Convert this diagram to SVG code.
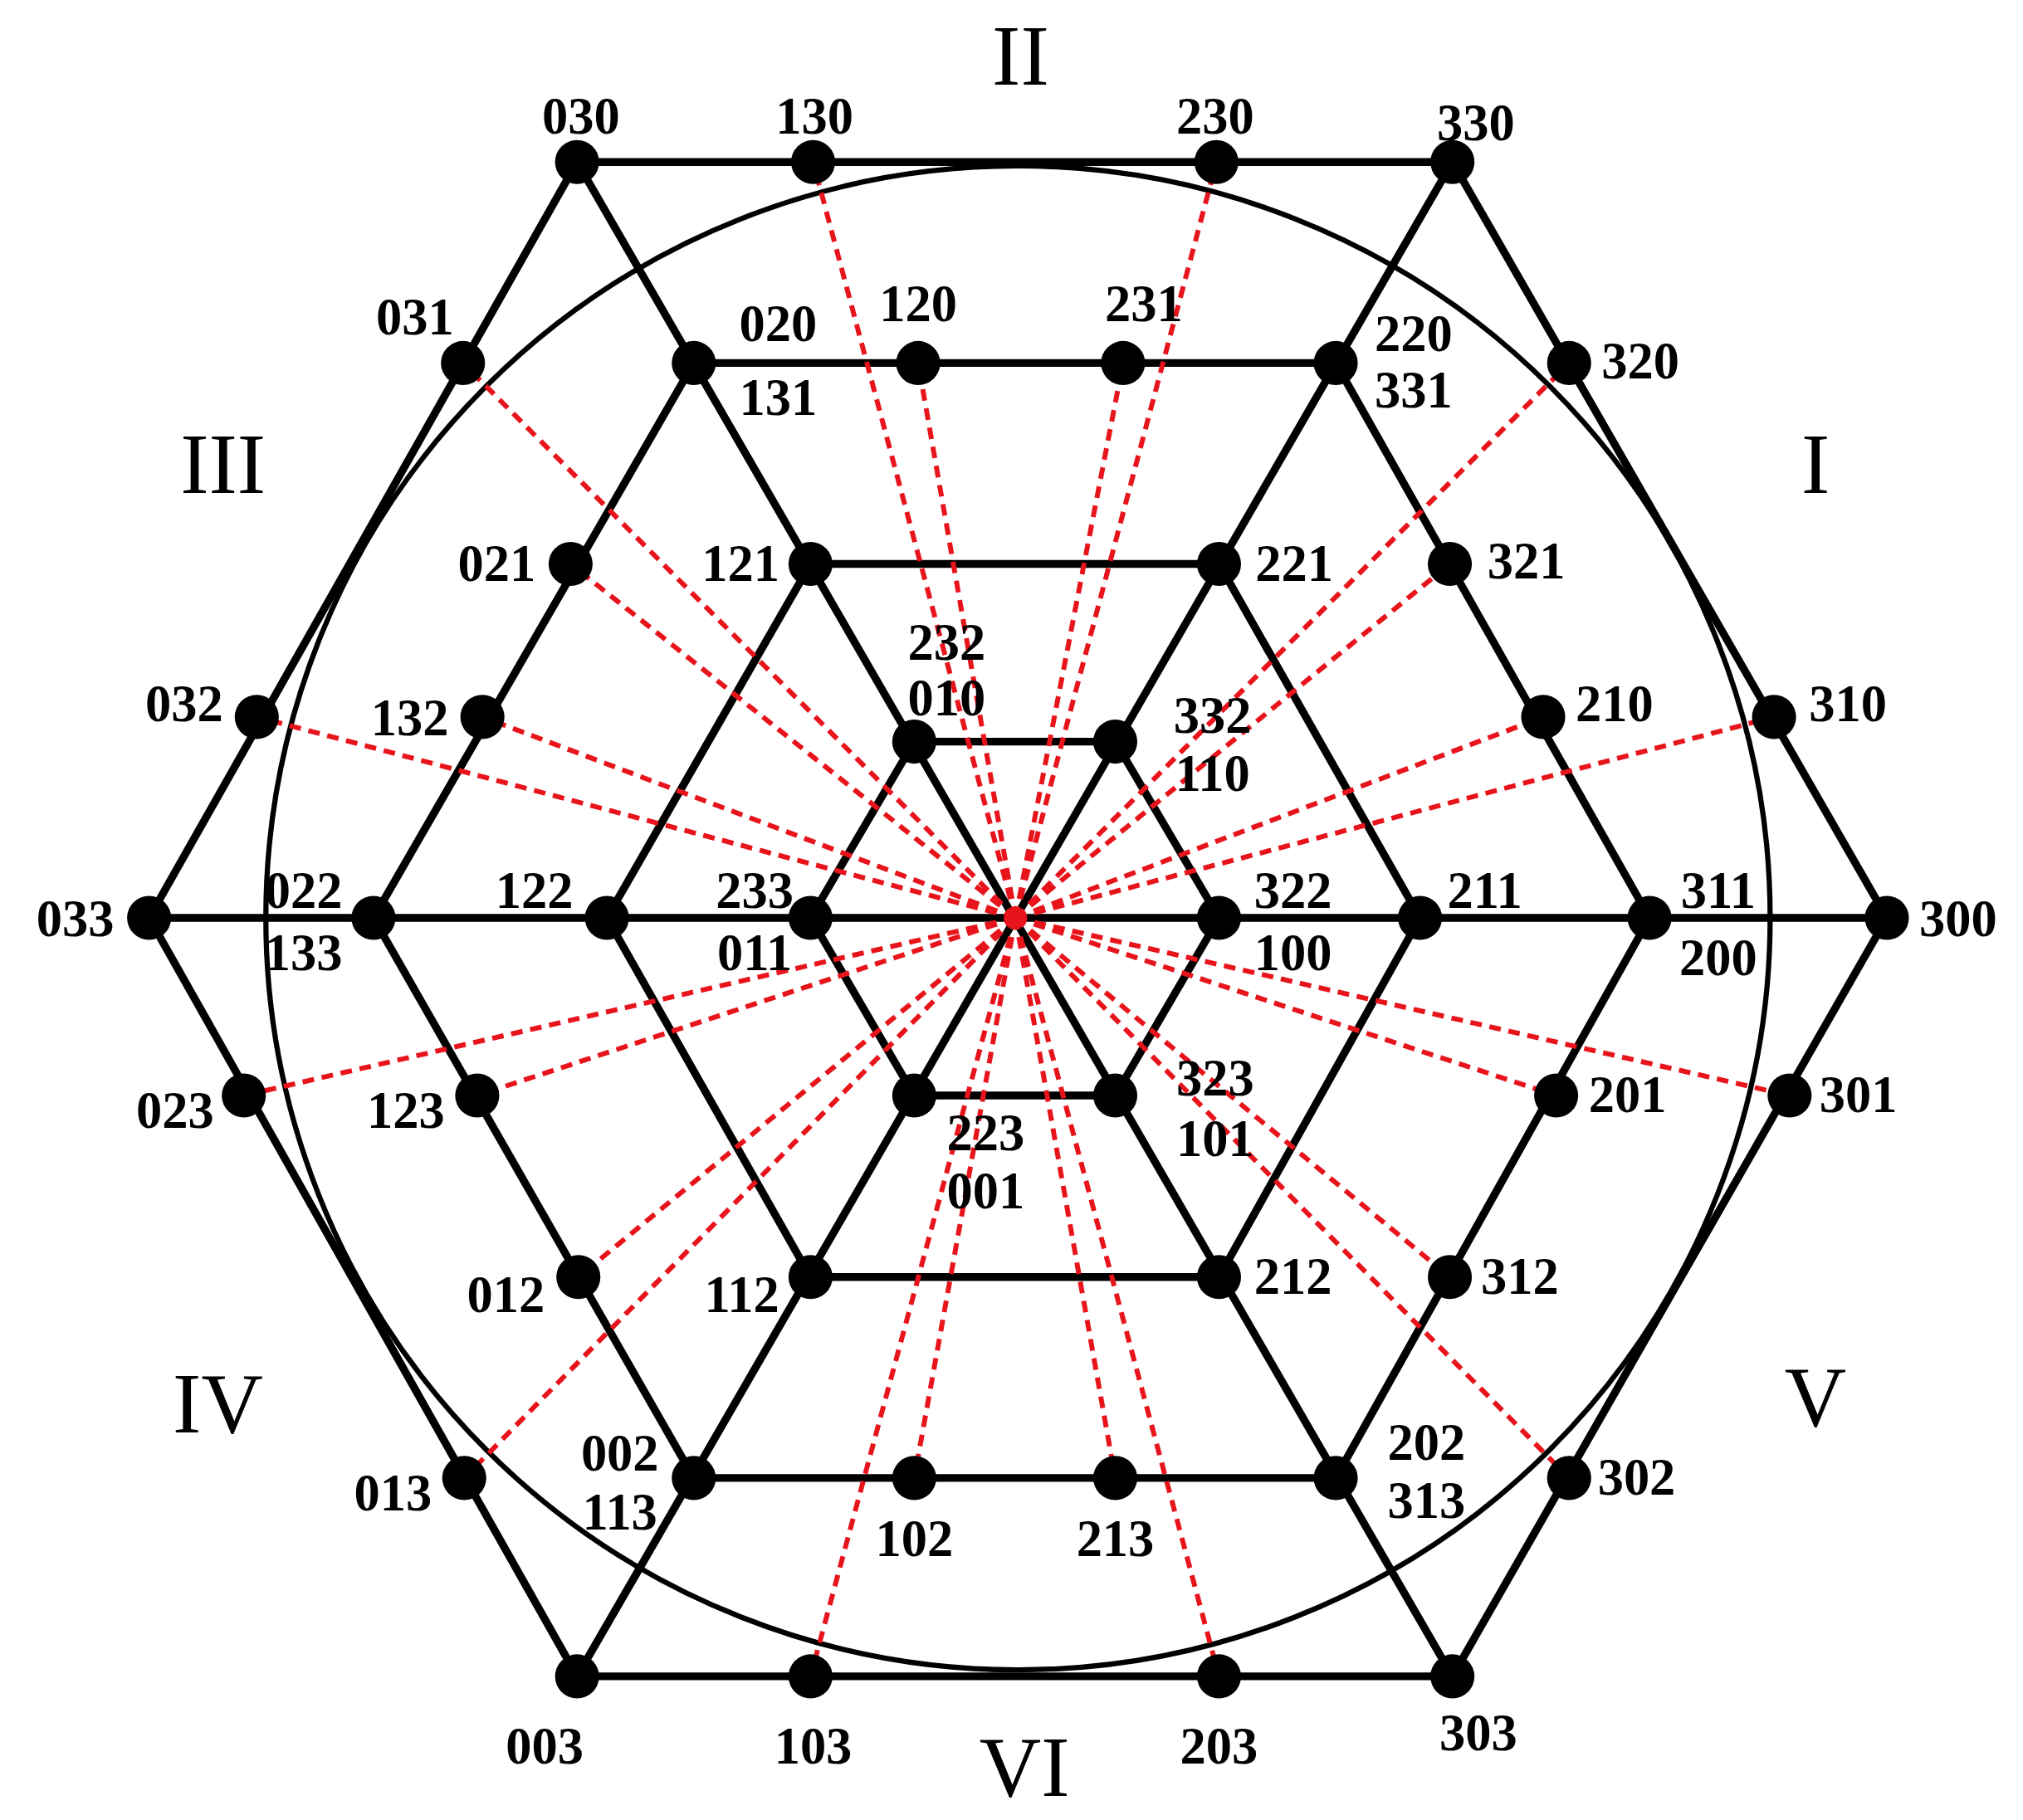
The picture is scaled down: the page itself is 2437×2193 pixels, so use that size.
<svg xmlns="http://www.w3.org/2000/svg" width="2437" height="2193" viewBox="0 0 2437 2193">
<style>
.e{stroke:#000;stroke-width:6;fill:none;stroke-linecap:round}
.r{stroke:#e8141c;stroke-width:3.8;stroke-dasharray:9,6;fill:none}
.n{fill:#000}
text{font-family:"Liberation Serif",serif;font-weight:bold;font-size:40px;text-anchor:middle;fill:#000}
.rn{font-weight:normal;font-size:66px}
</style>
<rect width="2437" height="2193" fill="#fff"/>
<g transform="scale(1.5622)">
<g id="connectors">
<circle cx="785" cy="708" r="580" stroke="#000" stroke-width="4" fill="none"/>
<path class="e" d="M445,125H1120L1455,708L1120,1293H445L115,708Z"/>
<path class="e" d="M535,280H1030L1272,708L1030,1140H535L288,708Z"/>
<path class="e" d="M705,572H860L940,708L860,845H705L625,708Z"/>
<path class="e" d="M625,435H940L1095,708L940,985H625L468,708Z"/>
<path class="e" d="M115,708H1455M445,125L1120,1293M1120,125L445,1293"/>
<g class="r">
<path d="M783,708L627,125M783,708L938,125M783,708L708,280M783,708L866,280M783,708L357,280M783,708L440,435M783,708L198,553M783,708L372,553M783,708L1210,280M783,708L1118,435M783,708L1190,553M783,708L1368,553"/>
<path d="M783,708L188,845M783,708L368,845M783,708L446,985M783,708L358,1140M783,708L1200,845M783,708L1380,845M783,708L1118,985M783,708L1210,1140M783,708L705,1140M783,708L860,1140M783,708L625,1293M783,708L940,1293"/>
</g>
</g>
<g id="nodes" class="n">
<g id="n030"><circle cx="445" cy="125" r="17"/></g>
<g id="n130"><circle cx="627" cy="125" r="17"/></g>
<g id="n230"><circle cx="938" cy="125" r="17"/></g>
<g id="n330"><circle cx="1120" cy="125" r="17"/></g>
<g id="n031"><circle cx="357" cy="280" r="17"/></g>
<g id="n020"><circle cx="535" cy="280" r="17"/></g>
<g id="n120"><circle cx="708" cy="280" r="17"/></g>
<g id="n231"><circle cx="866" cy="280" r="17"/></g>
<g id="n220"><circle cx="1030" cy="280" r="17"/></g>
<g id="n320"><circle cx="1210" cy="280" r="17"/></g>
<g id="n021"><circle cx="440" cy="435" r="17"/></g>
<g id="n121"><circle cx="625" cy="435" r="17"/></g>
<g id="n221"><circle cx="940" cy="435" r="17"/></g>
<g id="n321"><circle cx="1118" cy="435" r="17"/></g>
<g id="n032"><circle cx="198" cy="553" r="17"/></g>
<g id="n132"><circle cx="372" cy="553" r="17"/></g>
<g id="n010"><circle cx="705" cy="572" r="17"/></g>
<g id="n110"><circle cx="860" cy="572" r="17"/></g>
<g id="n210"><circle cx="1190" cy="553" r="17"/></g>
<g id="n310"><circle cx="1368" cy="553" r="17"/></g>
<g id="n033"><circle cx="115" cy="708" r="17"/></g>
<g id="n022"><circle cx="288" cy="708" r="17"/></g>
<g id="n122"><circle cx="468" cy="708" r="17"/></g>
<g id="n011"><circle cx="625" cy="708" r="17"/></g>
<g id="n100"><circle cx="940" cy="708" r="17"/></g>
<g id="n211"><circle cx="1095" cy="708" r="17"/></g>
<g id="n311"><circle cx="1272" cy="708" r="17"/></g>
<g id="n300"><circle cx="1455" cy="708" r="17"/></g>
<g id="n023"><circle cx="188" cy="845" r="17"/></g>
<g id="n123"><circle cx="368" cy="845" r="17"/></g>
<g id="n001"><circle cx="705" cy="845" r="17"/></g>
<g id="n101"><circle cx="860" cy="845" r="17"/></g>
<g id="n201"><circle cx="1200" cy="845" r="17"/></g>
<g id="n301"><circle cx="1380" cy="845" r="17"/></g>
<g id="n012"><circle cx="446" cy="985" r="17"/></g>
<g id="n112"><circle cx="625" cy="985" r="17"/></g>
<g id="n212"><circle cx="940" cy="985" r="17"/></g>
<g id="n312"><circle cx="1118" cy="985" r="17"/></g>
<g id="n013"><circle cx="358" cy="1140" r="17"/></g>
<g id="n002"><circle cx="535" cy="1140" r="17"/></g>
<g id="n102"><circle cx="705" cy="1140" r="17"/></g>
<g id="n213"><circle cx="860" cy="1140" r="17"/></g>
<g id="n202"><circle cx="1030" cy="1140" r="17"/></g>
<g id="n302"><circle cx="1210" cy="1140" r="17"/></g>
<g id="n003"><circle cx="445" cy="1293" r="17"/></g>
<g id="n103"><circle cx="625" cy="1293" r="17"/></g>
<g id="n203"><circle cx="940" cy="1293" r="17"/></g>
<g id="n303"><circle cx="1120" cy="1293" r="17"/></g>
</g>
<g id="labels">
<text x="448" y="103">030</text><text x="628" y="103">130</text><text x="937" y="103">230</text><text x="1138" y="108">330</text>
<text class="rn" x="787" y="65">II</text><text class="rn" x="172" y="380">III</text><text class="rn" x="1400" y="380">I</text>
<text class="rn" x="168" y="1105">IV</text><text class="rn" x="1400" y="1100">V</text><text class="rn" x="790" y="1385">VI</text>
<text x="320" y="258">031</text><text x="600" y="263">020</text><text x="600" y="320">131</text><text x="708" y="248">120</text><text x="882" y="248">231</text>
<text x="1090" y="271">220</text><text x="1090" y="314">331</text><text x="1265" y="292">320</text>
<text x="383" y="448">021</text><text x="571" y="448">121</text><text x="998" y="448">221</text><text x="1177" y="446">321</text>
<text x="730" y="509">232</text><text x="730" y="552">010</text><text x="935" y="565">332</text><text x="935" y="610">110</text>
<text x="142" y="556">032</text><text x="316" y="567">132</text><text x="1245" y="556">210</text><text x="1425" y="556">310</text>
<text x="58" y="722">033</text><text x="234" y="700">022</text><text x="234" y="748">133</text><text x="412" y="700">122</text>
<text x="582" y="700">233</text><text x="582" y="748">011</text><text x="997" y="700">322</text><text x="997" y="748">100</text>
<text x="1145" y="700">211</text><text x="1325" y="700">311</text><text x="1325" y="752">200</text><text x="1510" y="722">300</text>
<text x="135" y="870">023</text><text x="313" y="870">123</text><text x="1255" y="858">201</text><text x="1433" y="858">301</text>
<text x="937" y="845">323</text><text x="937" y="892">101</text><text x="760" y="887">223</text><text x="760" y="932">001</text>
<text x="390" y="1012">012</text><text x="572" y="1012">112</text><text x="997" y="998">212</text><text x="1172" y="998">312</text>
<text x="478" y="1134">002</text><text x="478" y="1180">113</text><text x="1100" y="1126">202</text><text x="1100" y="1171">313</text>
<text x="303" y="1165">013</text><text x="1262" y="1153">302</text><text x="705" y="1200">102</text><text x="860" y="1200">213</text>
<text x="420" y="1360">003</text><text x="627" y="1360">103</text><text x="940" y="1360">203</text><text x="1140" y="1350">303</text>
</g>
</g>
</svg>
